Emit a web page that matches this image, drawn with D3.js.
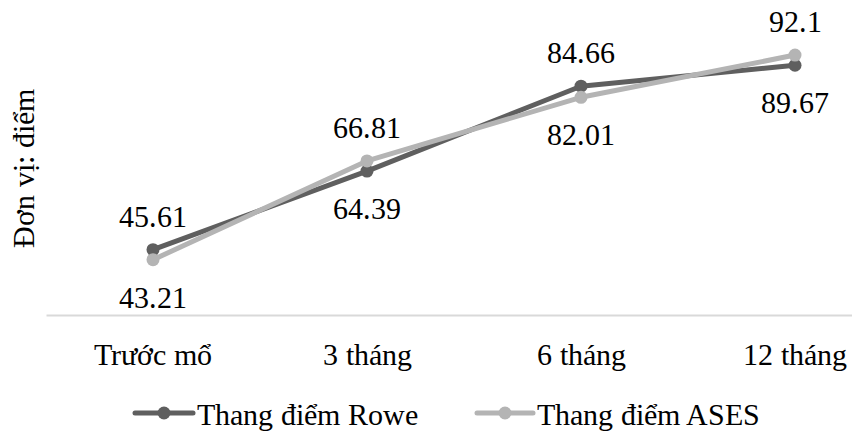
<!DOCTYPE html>
<html>
<head>
<meta charset="utf-8">
<script src="https://cdn.jsdelivr.net/npm/d3@7"></script>
<style>
  @font-face {
    font-family: "ChartSerif";
    src: local("Liberation Serif"), local("LiberationSerif"), local("LiberationSerif-Regular"),
         local("Times New Roman"), local("DejaVu Serif"), local("DejaVuSerif"), local("Noto Serif");
  }
  html, body { margin: 0; padding: 0; background: #fff; }
  svg { display: block; }
</style>
</head>
<body>
<svg id="chart" width="852" height="431"></svg>
<script>
// Điểm chức năng khớp vai theo thời gian
const categories = ["Trước mổ", "3 tháng", "6 tháng", "12 tháng"];
const seriesNames = ["Thang điểm Rowe", "Thang điểm ASES"];
const roweValues = [45.61, 64.39, 84.66, 89.67];
const asesValues = [43.21, 66.81, 82.01, 92.1];
const yTitle = "Đơn vị: điểm";
const colors = ["#5f5f5f", "#b4b4b4"];

const series = [
  { name: seriesNames[0], values: roweValues, color: colors[0] },
  { name: seriesNames[1], values: asesValues, color: colors[1] }
];

const FONT = "ChartSerif, 'Liberation Serif', Tinos, 'Times New Roman', 'DejaVu Serif', serif";
const fontSize = 30;

const svg = d3.select("#chart")
  .attr("font-family", FONT)
  .style("font-family", FONT);

// Plot area (category axis runs past the right edge of the canvas)
const plot = { left: 46, right: 902, top: 22, bottom: 315 };

const x = d3.scaleBand().domain(categories).range([plot.left, plot.right]);
const y = d3.scaleLinear().domain([30, 100]).range([plot.bottom, plot.top]);
const cx = c => x(c) + x.bandwidth() / 2;

function styleText(sel) {
  return sel.style("font-family", FONT)
    .style("font-size", fontSize + "px")
    .attr("fill", "#000");
}

// Category axis
const xAxis = svg.append("g")
  .attr("transform", `translate(0,${plot.bottom})`)
  .call(d3.axisBottom(x).tickSize(0).tickPadding(0));
xAxis.attr("font-family", null).attr("font-size", null);
xAxis.select(".domain").attr("stroke", "#d9d9d9").attr("stroke-width", 2);
xAxis.selectAll(".tick text")
  .attr("y", 50)
  .attr("dy", 0)
  .call(styleText);

// Y-axis title
svg.append("text")
  .attr("transform", `translate(34,${(plot.top + plot.bottom) / 2}) rotate(-90)`)
  .attr("text-anchor", "middle")
  .call(styleText)
  .text(yTitle);

// Lines and markers
const line = d3.line()
  .x((d, i) => cx(categories[i]))
  .y(d => y(d));

series.forEach(s => {
  svg.append("path")
    .datum(s.values)
    .attr("d", line)
    .attr("fill", "none")
    .attr("stroke", s.color)
    .attr("stroke-width", 5)
    .attr("stroke-linejoin", "round")
    .attr("stroke-linecap", "round");
});

series.forEach(s => {
  svg.append("g").selectAll("circle")
    .data(s.values)
    .join("circle")
    .attr("cx", (d, i) => cx(categories[i]))
    .attr("cy", d => y(d))
    .attr("r", 6.5)
    .attr("fill", s.color);
});

// Data labels: the higher series at each category is labelled above, the lower below
series.forEach((s, si) => {
  const other = series[1 - si];
  svg.append("g").selectAll("text")
    .data(s.values)
    .join("text")
    .attr("x", (d, i) => cx(categories[i]))
    .attr("y", (d, i) => d >= other.values[i] ? y(d) - 23 : y(d) + 48)
    .attr("text-anchor", "middle")
    .call(styleText)
    .text(d => d);
});

// Legend
const legendY = 413;
const legendItems = [
  { x0: 135, x1: 193, tx: 197 },
  { x0: 477, x1: 533, tx: 537 }
];
series.forEach((s, i) => {
  const it = legendItems[i];
  const g = svg.append("g");
  g.append("line")
    .attr("x1", it.x0).attr("x2", it.x1)
    .attr("y1", legendY).attr("y2", legendY)
    .attr("stroke", s.color).attr("stroke-width", 5)
    .attr("stroke-linecap", "round");
  g.append("circle")
    .attr("cx", (it.x0 + it.x1) / 2).attr("cy", legendY)
    .attr("r", 6.5).attr("fill", s.color);
  g.append("text")
    .attr("x", it.tx).attr("y", legendY + 12)
    .call(styleText)
    .text(s.name);
});
</script>
</body>
</html>
